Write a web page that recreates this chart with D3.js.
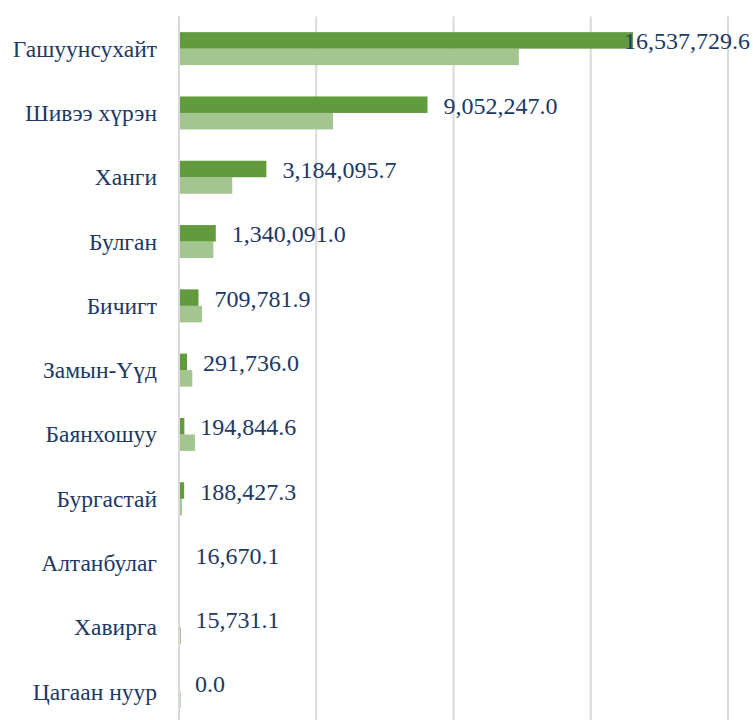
<!DOCTYPE html>
<html>
<head>
<meta charset="utf-8">
<script src="https://cdn.jsdelivr.net/npm/d3@7"></script>
<style>
  html, body { margin: 0; padding: 0; background: #fff; }
  svg { display: block; }
</style>
</head>
<body>
<svg id="chart" width="753" height="720"></svg>
<script>
// Data
const categories = ["Гашуунсухайт", "Шивээ хүрэн", "Ханги", "Булган", "Бичигт", "Замын-Үүд", "Баянхошуу", "Бургастай", "Алтанбулаг", "Хавирга", "Цагаан нуур"];
const currentValues = [16537729.6, 9052247.0, 3184095.7, 1340091.0, 709781.9, 291736.0, 194844.6, 188427.3, 16670.1, 15731.1, 0.0];
const previousValues = [12380000, 5610000, 1940000, 1250000, 840000, 485000, 580000, 110000, 0, 70000, 60000];
const xTicks = [0, 5000000, 10000000, 15000000, 20000000];

const svg = d3.select("#chart");
const W = 753, H = 720;
const margin = { left: 179, right: 25, top: 16.5 };
const bandH = 64.3;
const plotBottom = margin.top + bandH * categories.length;

const x = d3.scaleLinear().domain([0, 20000000]).range([margin.left, 728]);
const y = d3.scaleBand().domain(categories).range([margin.top, plotBottom]).paddingInner(0.487).paddingOuter(0.2435);
const sub = d3.scaleBand().domain(["cur", "prev"]).range([0, y.bandwidth()]);

const grid = "#d9d9d9";
const textColor = "#203864";
const FONT = '"Liberation Serif"';

// gridlines
svg.append("g").selectAll("line").data(xTicks).join("line")
  .attr("x1", d => x(d)).attr("x2", d => x(d))
  .attr("y1", margin.top).attr("y2", H + 10)
  .attr("stroke", grid).attr("stroke-width", 2);

const rows = categories.map((c, i) => ({ c, cur: currentValues[i], prev: previousValues[i] }));

// bars
const g = svg.append("g");
g.selectAll("rect.prev").data(rows).join("rect").attr("class", "prev")
  .attr("x", x(0)).attr("y", d => y(d.c) + sub("prev"))
  .attr("width", d => Math.max(0, x(d.prev) - x(0)))
  .attr("height", sub.bandwidth())
  .attr("fill", "#a3c58f");
g.selectAll("rect.cur").data(rows).join("rect").attr("class", "cur")
  .attr("x", x(0)).attr("y", d => y(d.c) + sub("cur"))
  .attr("width", d => Math.max(0, x(d.cur) - x(0)))
  .attr("height", sub.bandwidth())
  .attr("fill", "#629a3e");

// axis line over bars
svg.append("line").attr("x1", x(0)).attr("x2", x(0)).attr("y1", margin.top).attr("y2", H + 10)
  .attr("stroke", grid).attr("stroke-width", 2);

// category labels
svg.append("g").selectAll("text").data(rows).join("text")
  .attr("x", 157).attr("y", d => y(d.c) + y.bandwidth() / 2)
  .attr("text-anchor", "end").attr("dominant-baseline", "central")
  .style("font-family", FONT).attr("font-size", 23.5).attr("fill", textColor)
  .text(d => d.c);

// value labels
const fmt = d3.format(",.1f");
const vl = svg.append("g").selectAll("text").data(rows).join("text")
  .attr("y", d => y(d.c) + sub("cur") + sub.bandwidth() / 2 + 1)
  .attr("dominant-baseline", "central")
  .style("font-family", FONT).attr("font-size", 24).attr("fill", textColor)
  .text(d => fmt(d.cur));
vl.each(function(d) {
  const w = this.getComputedTextLength();
  let px = x(d.cur) + 16;
  if (px + w > 750) px = 750 - w;
  d3.select(this).attr("x", px);
});
</script>
</body>
</html>
